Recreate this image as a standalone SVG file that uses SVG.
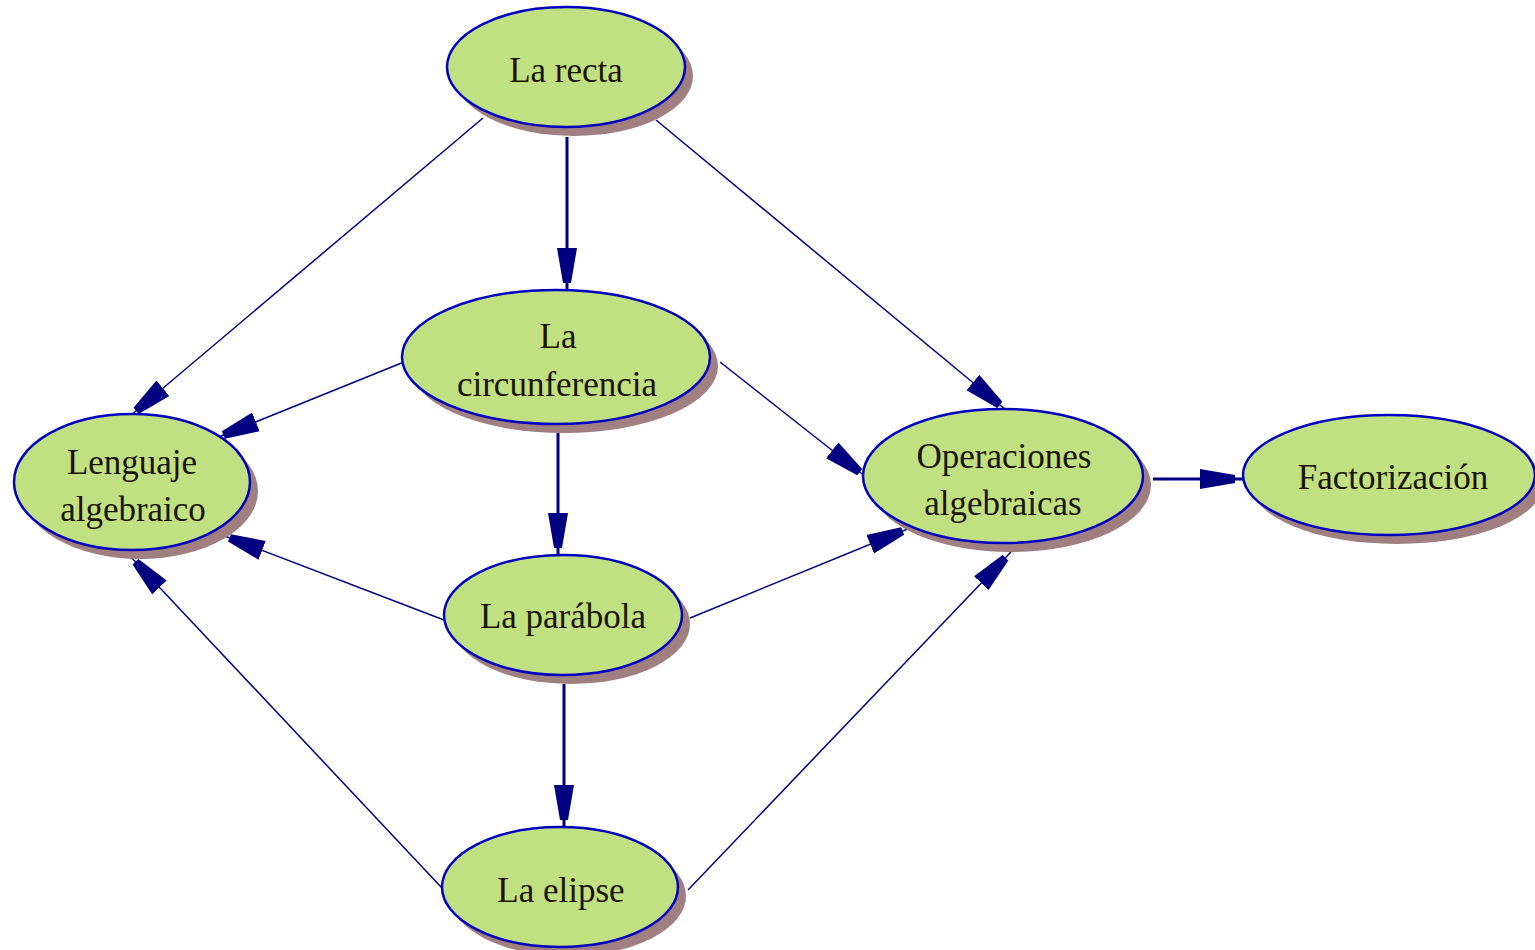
<svg xmlns="http://www.w3.org/2000/svg" width="1535" height="950" viewBox="0 0 1535 950">
<style>
.sh{fill:#9f7f7f}
.nd{fill:#c1e081;stroke:#0000c0;stroke-width:2.5}
.t{font-family:"Liberation Serif","Times New Roman",serif;font-size:35px;fill:#1a1400;text-anchor:middle}
.e{fill:none;stroke:#000080;stroke-width:1.5;marker-end:url(#ah)}
.ev{fill:none;stroke:#000080;stroke-width:3;marker-end:url(#ah)}
</style>
<defs>
<marker id="ah" markerUnits="userSpaceOnUse" markerWidth="50" markerHeight="30" viewBox="0 -12 50 24" refX="43" refY="0" orient="auto">
<path d="M0,-10 L35,-4 L35,4 L0,10 Z" fill="#000080"/>
</marker>
</defs>
<rect width="1535" height="950" fill="#fff"/>
<g id="connectors">
<path class="e" d="M483,118 L130,416"/>
<path class="ev" d="M567,137 L567,291"/>
<path class="e" d="M656,120 L1006,410"/>
<path class="e" d="M404,362 L216,438"/>
<path class="e" d="M720,362 L866,477"/>
<path class="ev" d="M558,433 L558,556"/>
<path class="e" d="M444,620 L222,535"/>
<path class="e" d="M690,618 L910,528"/>
<path class="ev" d="M564,684 L564,828"/>
<path class="e" d="M442,888 L130,556"/>
<path class="e" d="M688,890 L1011,552"/>
<path class="ev" d="M1153,479 L1243,479"/>
</g>
<g id="n-recta">
<ellipse class="sh" cx="574" cy="76" rx="119" ry="60"/>
<ellipse class="nd" cx="566" cy="67" rx="119" ry="60"/>
<text class="t" x="566" y="82">La recta</text>
</g>
<g id="n-circunferencia">
<ellipse class="sh" cx="564" cy="366" rx="154" ry="67"/>
<ellipse class="nd" cx="556" cy="357" rx="154" ry="67"/>
<text class="t" x="558" y="348">La</text>
<text class="t" x="557" y="396">circunferencia</text>
</g>
<g id="n-lenguaje">
<ellipse class="sh" cx="140" cy="491" rx="118" ry="68"/>
<ellipse class="nd" cx="132" cy="482" rx="118" ry="68"/>
<text class="t" x="132" y="474">Lenguaje</text>
<text class="t" x="133" y="521">algebraico</text>
</g>
<g id="n-operaciones">
<ellipse class="sh" cx="1011" cy="485" rx="140" ry="67"/>
<ellipse class="nd" cx="1003" cy="476" rx="140" ry="67"/>
<text class="t" x="1004" y="468">Operaciones</text>
<text class="t" x="1003" y="515">algebraicas</text>
</g>
<g id="n-factorizacion">
<ellipse class="sh" cx="1397" cy="484" rx="146" ry="60"/>
<ellipse class="nd" cx="1389" cy="475" rx="146" ry="60"/>
<text class="t" x="1393" y="489">Factorización</text>
</g>
<g id="n-parabola">
<ellipse class="sh" cx="571" cy="624" rx="119" ry="60"/>
<ellipse class="nd" cx="563" cy="615" rx="119" ry="60"/>
<text class="t" x="563" y="628">La parábola</text>
</g>
<g id="n-elipse">
<ellipse class="sh" cx="568" cy="896" rx="118" ry="60"/>
<ellipse class="nd" cx="560" cy="887" rx="118" ry="60"/>
<text class="t" x="561" y="902">La elipse</text>
</g>
</svg>
